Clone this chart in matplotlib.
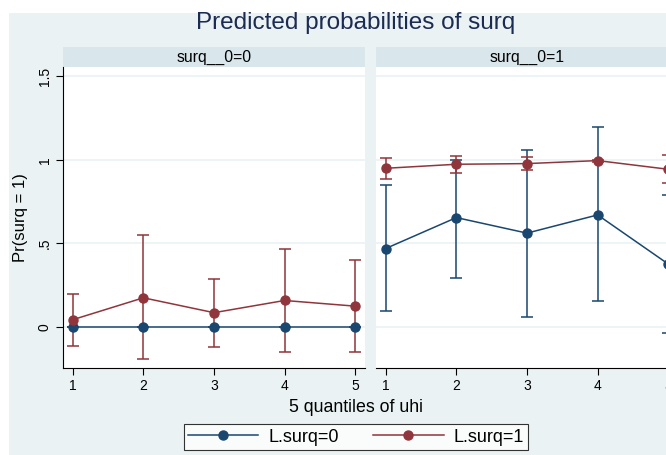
import numpy as np
import matplotlib.pyplot as plt
from matplotlib.patches import Rectangle
from matplotlib.lines import Line2D

plt.rcParams['font.family'] = ['Liberation Sans', 'DejaVu Sans']

# quantiles of uhi
quantiles = [1, 2, 3, 4, 5]

# panel surq__0=0
p0_lag0 = [0.0, 0.0, 0.0, 0.0, 0.0]
lo0_lag0 = [0.0, 0.0, 0.0, 0.0, 0.0]
hi0_lag0 = [0.0, 0.0, 0.0, 0.0, 0.0]
p0_lag1 = [0.044, 0.175, 0.086, 0.159, 0.125]
lo0_lag1 = [-0.114, -0.193, -0.118, -0.149, -0.149]
hi0_lag1 = [0.195, 0.548, 0.289, 0.466, 0.400]

# panel surq__0=1
p1_lag0 = [0.470, 0.655, 0.562, 0.671, 0.377]
lo1_lag0 = [0.096, 0.295, 0.060, 0.155, -0.034]
hi1_lag0 = [0.847, 1.000, 1.062, 1.196, 0.790]
p1_lag1 = [0.950, 0.974, 0.978, 0.996, 0.944]
lo1_lag1 = [0.888, 0.920, 0.938, 0.990, 0.864]
hi1_lag1 = [1.010, 1.026, 1.020, 1.000, 1.028]

panel_titles = ["surq__0=0", "surq__0=1"]
series_labels = ["L.surq=0", "L.surq=1"]

blue = "#1a476f"
red = "#90353b"
bg = "#eaf2f3"
strip = "#d9e6eb"
W, H = 666, 455

fig = plt.figure(figsize=(W / 100, H / 100), dpi=100, facecolor="white")
fig.patches.append(Rectangle((9 / W, 0), 1, (H - 13) / H, transform=fig.transFigure,
                             facecolor=bg, edgecolor="none", zorder=-10))

ax_w = 302 / W
ax_h = 301 / H
ax_b = (H - 368) / H
ax1 = fig.add_axes([63 / W, ax_b, ax_w, ax_h])
ax2 = fig.add_axes([376 / W, ax_b, ax_w, ax_h])

data = [
    (p0_lag0, lo0_lag0, hi0_lag0, p0_lag1, lo0_lag1, hi0_lag1),
    (p1_lag0, lo1_lag0, hi1_lag0, p1_lag1, lo1_lag1, hi1_lag1),
]

for ax, title, d in zip([ax1, ax2], panel_titles, data):
    ax.set_facecolor("white")
    for (p, lo, hi), col in zip([d[:3], d[3:]], [blue, red]):
        p = np.array(p)
        err = [p - np.array(lo), np.array(hi) - p]
        ax.errorbar(quantiles, p, yerr=err, color=col, ecolor=col, lw=1.1,
                    elinewidth=1.1, capsize=4, capthick=1.1, marker="o",
                    markersize=6.5, clip_on=False)
    ax.set_xlim(0.862, 5.138)
    ax.set_ylim(-0.245, 1.556)
    ax.set_yticks([0, 0.5, 1, 1.5])
    ax.set_xticks(quantiles)
    ax.grid(axis="y", color=bg, lw=1.2)
    ax.set_axisbelow(True)
    for s in ["top", "right"]:
        ax.spines[s].set_visible(False)
    ax.spines["bottom"].set_color("black")
    ax.tick_params(axis="x", length=5, width=0.8, labelsize=10, pad=3)
    ax.add_patch(Rectangle((0, 1), 1, 20 / 301, transform=ax.transAxes,
                           facecolor=strip, edgecolor="none", clip_on=False))
    ax.text(0.5, 1 + 10 / 301, title, transform=ax.transAxes, ha="center",
            va="center", fontsize=11.3)

ax1.set_yticklabels(["0", ".5", "1", "1.5"], rotation=90, va="center")
ax1.tick_params(axis="y", length=5, width=0.8, labelsize=10, pad=3)
ax1.set_ylabel("Pr(surq = 1)", fontsize=12, labelpad=7)
ax2.spines["left"].set_visible(False)
ax2.tick_params(axis="y", length=0, labelleft=False)

fig.text(356 / W, (H - 23) / H, "Predicted probabilities of surq", ha="center",
         va="center", fontsize=17.5, color="#1c2b52")
fig.text(356 / W, (H - 408) / H, "5 quantiles of uhi", ha="center",
         va="center", fontsize=12.8)

handles = [Line2D([], [], color=c, lw=1.1, marker="o", markersize=6.5)
           for c in [blue, red]]
leg = fig.legend(handles, series_labels, loc="center", ncol=2,
                 bbox_to_anchor=(356 / W, (H - 437) / H), fontsize=13,
                 frameon=True, fancybox=False, edgecolor="black",
                 handlelength=3.9, handletextpad=0.55, columnspacing=1.9,
                 borderpad=0.25, borderaxespad=0)
leg.get_frame().set_linewidth(0.8)
leg.get_frame().set_facecolor("white")

fig.savefig("out.png", dpi=100, facecolor="white")
